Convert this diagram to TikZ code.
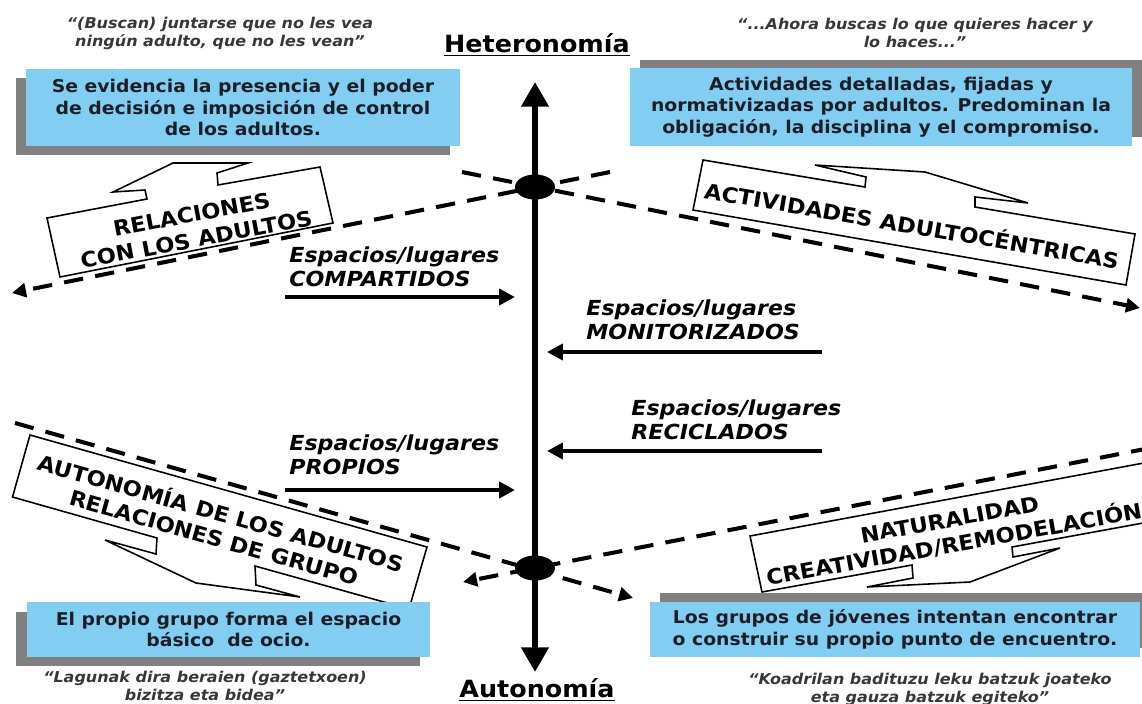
\documentclass[tikz,border=0pt]{standalone}
\usepackage{fontspec}
\newfontfamily\vb{DejaVu Sans}[FakeStretch=1.07]
\usetikzlibrary{arrows.meta,shapes.geometric}
\definecolor{boxblue}{RGB}{130,206,242}
\definecolor{shadowgray}{RGB}{128,128,128}
\definecolor{textdark}{RGB}{30,30,40}
\definecolor{quotegray}{RGB}{55,55,55}
\begin{document}
\begin{tikzpicture}[x=0.02cm,y=-0.02cm,
  boxtext/.style={font=\vb\bfseries\fontsize{10}{12.2}\selectfont,text=textdark,align=center},
  bluebox/.style={fill=boxblue,inner sep=0pt},
  shadow/.style={fill=shadowgray},
  quote/.style={font=\vb\bfseries\itshape\fontsize{8.5}{10.2}\selectfont,text=quotegray,align=center},
  esp/.style={font=\vb\bfseries\itshape\fontsize{11.8}{13.6}\selectfont,align=left,anchor=west,inner sep=0pt},
  titletext/.style={font=\vb\bfseries\fontsize{13.5}{16}\selectfont},
  calltext/.style={font=\vb\bfseries\fontsize{12}{14.3}\selectfont,align=center,inner sep=1pt},
  callout/.style={draw=black,line width=0.9pt,fill=white,line join=miter},
  dashline/.style={line width=2.3pt,dash pattern=on 11pt off 7pt},
  dtip/.style={-{Triangle[length=8pt,width=8pt]}},
  harrow/.style={line width=2.8pt,-{Triangle[length=9pt,width=9pt]}},
  dot/.style={ellipse,fill=black,minimum width=0.8cm,minimum height=0.5cm,inner sep=0pt}
]
\useasboundingbox (0,0) rectangle (1142,703);
\clip (0,0) rectangle (1142,703);

% titles
\node[titletext] (het) at (537,45) {\underline{Heteronomía}};
\node[titletext] (aut) at (537,690) {\underline{Autonomía}};

% quotes
\node[quote] (q1) at (220,33) {“(Buscan) juntarse que no les vea\\ningún adulto, que no les vean”};
\node[quote] (q2) at (915,33) {“...Ahora buscas lo que quieres hacer y\\lo haces...”};
\node[quote] (q3) at (205,686) {“Lagunak dira beraien (gaztetxoen)\\bizitza eta bidea”};
\node[quote] (q4) at (930,689) {“Koadrilan badituzu leku batzuk joateko\\eta gauza batzuk egiteko”};

% dashed lines
\coordinate (a1) at (610,172); \coordinate (a2) at (12,293);
\coordinate (b1) at (462,172); \coordinate (b2) at (1140,308);
\coordinate (c1) at (15,423);  \coordinate (c2) at (633,598);
\coordinate (d1) at (1150,448); \coordinate (d2) at (463,582);
\draw[dashline,dtip] (a1) -- (a2);
\draw[dashline,dtip] (b1) -- (b2);
\draw[dashline,dtip] (c1) -- (c2);
\draw[dashline,dtip] (d1) -- (d2);

% vertical axis
\coordinate (axtop) at (535,82);
\coordinate (axbot) at (535,672);
\draw[line width=3.4pt,{Triangle[length=14pt,width=15pt]}-{Triangle[length=14pt,width=15pt]}] (axbot) -- (axtop);
\node[dot] (e1) at (535,187) {};
\node[dot] (e2) at (535,568) {};

% horizontal arrows and labels
\node[esp] (l1) at (289,267) {Espacios/lugares\\COMPARTIDOS};
\node[esp] (l2) at (586,320) {Espacios/lugares\\MONITORIZADOS};
\node[esp] (l3) at (631,420) {Espacios/lugares\\RECICLADOS};
\node[esp] (l4) at (289,455) {Espacios/lugares\\PROPIOS};
\coordinate (h1s) at (285,297); \coordinate (h1e) at (515,297);
\coordinate (h2s) at (822,352); \coordinate (h2e) at (547,352);
\coordinate (h3s) at (822,451); \coordinate (h3e) at (547,451);
\coordinate (h4s) at (285,490); \coordinate (h4e) at (515,490);
\draw[harrow] (h1s) -- (h1e);
\draw[harrow] (h2s) -- (h2e);
\draw[harrow] (h3s) -- (h3e);
\draw[harrow] (h4s) -- (h4e);

% callouts
\draw[callout] (47,218) -- (147,199) -- (145,190) -- (113,192) -- (173,163) -- (248,163) -- (217,173) -- (218,185) -- (320,167) -- (333,223) -- (60,277) -- cycle;
\node[calltext,rotate=10.6] (c1t) at (194,227) {RELACIONES\\CON LOS ADULTOS};

\draw[callout] (703,160) -- (865,187) -- (866,177) -- (815,165) -- (925,172) -- (1028,203) -- (975,197) -- (975,207) -- (1135,234) -- (1126,285) -- (693,210) -- cycle;
\node[calltext,rotate=-9.7] (c2t) at (912,224) {ACTIVIDADES ADULTOCÉNTRICAS};

\draw[callout] (30,435) -- (427,547) -- (409,609) -- (255,566) -- (256,585) -- (300,597) -- (196,583) -- (105,540) -- (156,554) -- (157,538) -- (12.5,497) -- cycle;
\node[calltext,rotate=-15.7] (c3t) at (218,524) {AUTONOMÍA DE LOS ADULTOS\\RELACIONES DE GRUPO};

\draw[callout] (750,536) -- (1160,460) -- (1165,519) -- (1012,547) -- (1013,557) -- (1060,548) -- (970,582) -- (867,587) -- (913,578) -- (912,565) -- (762,592) -- cycle;
\node[calltext,rotate=10.2] (c4t) at (952,533) {NATURALIDAD\\CREATIVIDAD/REMODELACIÓN};

% blue boxes with shadows
\fill[shadow] (16,78) rectangle (450,155);
\node[bluebox,minimum width=8.68cm,minimum height=1.54cm] (bx1) at (243,107.5) {};
\node[boxtext] (t1) at (bx1) {Se evidencia la presencia y el poder\\de decisión e imposición de control\\de los adultos.};

\fill[shadow] (640,60) rectangle (1142,137);
\node[bluebox,minimum width=10.04cm,minimum height=1.56cm] (bx2) at (881,107) {};
\node[boxtext] (t2) at (bx2) {Actividades detalladas, fijadas y\\normativizadas por adultos. Predominan la\\obligación, la disciplina y el compromiso.};

\fill[shadow] (16,612) rectangle (420,666);
\node[bluebox,minimum width=8.06cm,minimum height=1.1cm] (bx3) at (228.5,629.5) {};
\node[boxtext] (t3) at (bx3) {El propio grupo forma el espacio\\básico~ de ocio.};

\fill[shadow] (660,593) rectangle (1150,648);
\node[bluebox,minimum width=9.8cm,minimum height=1.1cm] (bx4) at (895,629.5) {};
\node[boxtext] (t4) at (bx4) {Los grupos de jóvenes intentan encontrar\\o construir su propio punto de encuentro.};
\end{tikzpicture}
\end{document}
